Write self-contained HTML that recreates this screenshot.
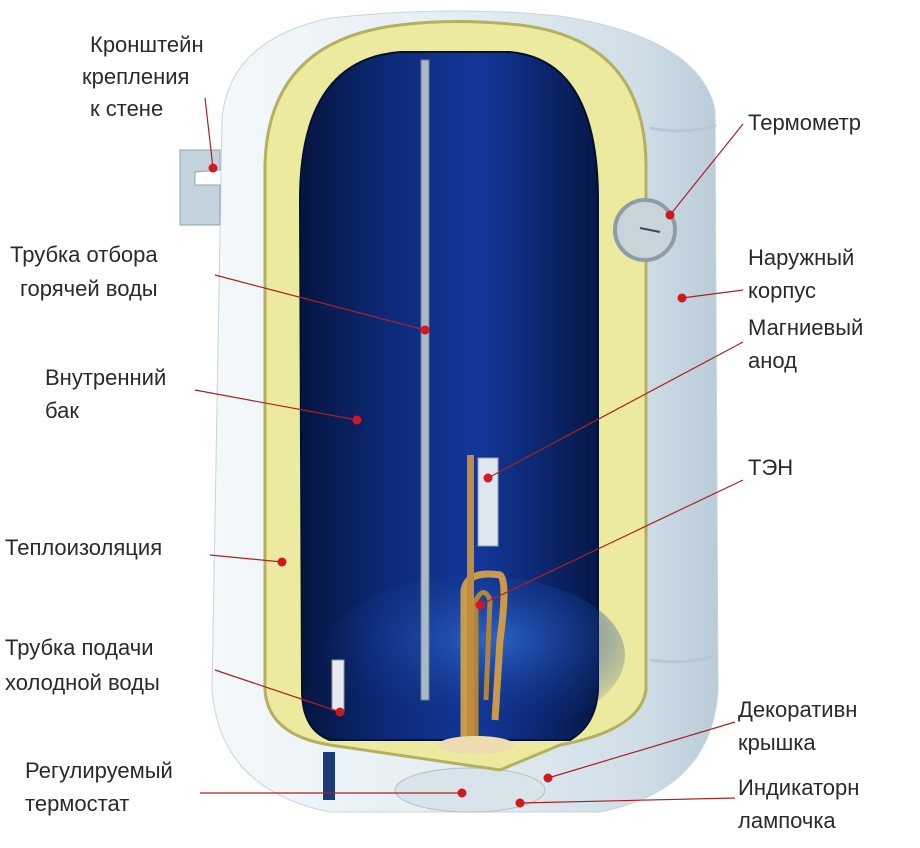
<!DOCTYPE html>
<html><head><meta charset="utf-8"><style>
body{margin:0;background:#fff;}
svg{display:block}
text{font-family:"Liberation Sans",sans-serif;font-size:22px;fill:#2a2a2a;}
</style></head><body>
<svg width="920" height="848" viewBox="0 0 920 848">
<defs>
<linearGradient id="shell" x1="0" x2="1" y1="0" y2="0">
<stop offset="0" stop-color="#f4f8fa"/><stop offset="0.5" stop-color="#e4edf2"/><stop offset="0.85" stop-color="#cfdde6"/><stop offset="1" stop-color="#b9ccd8"/>
</linearGradient>
<linearGradient id="blue" x1="0" x2="1" y1="0" y2="0">
<stop offset="0" stop-color="#061540"/><stop offset="0.3" stop-color="#0c2a78"/><stop offset="0.6" stop-color="#12379a"/><stop offset="1" stop-color="#061848"/>
</linearGradient>
<radialGradient id="bot" cx="0.55" cy="0.4" r="0.6">
<stop offset="0" stop-color="#2c63c8"/><stop offset="1" stop-color="#0b2a7c" stop-opacity="0"/>
</radialGradient>
</defs>
<path d="M222 120 Q228 40 330 18 Q450 5 560 16 Q700 38 715 110 L718 690 Q712 790 600 812 L330 812 Q220 790 212 690 Z" fill="url(#shell)" stroke="#c7d5de"/>
<path d="M650 128 Q690 135 716 125" stroke="#b8c8d3" fill="none" stroke-width="3"/>
<path d="M650 660 Q690 665 716 655" stroke="#b8c8d3" fill="none" stroke-width="3"/>
<ellipse cx="470" cy="790" rx="75" ry="22" fill="#d8e3ea" stroke="#aebfcb"/>
<rect x="323" y="752" width="12" height="48" fill="#1c3a78"/>
<path d="M180 150 L220 150 L220 170 L195 172 L195 185 L220 185 L220 225 L180 225 Z" fill="#c3d2dc" stroke="#8ea5b4"/>
<path d="M265 165 Q268 40 400 25 Q455 18 520 25 Q645 40 646 165 L646 690 Q640 730 560 745 L500 770 L330 745 Q268 735 265 690 Z" fill="#ecea9e" stroke="#b4b060" stroke-width="3"/>
<path d="M300 200 Q300 60 400 52 L510 52 Q598 60 598 200 L598 690 Q596 725 570 740 L330 740 Q302 730 302 690 Z" fill="url(#blue)" stroke="#031030" stroke-width="2"/>
<ellipse cx="475" cy="655" rx="150" ry="80" fill="url(#bot)"/>
<rect x="421" y="60" width="8" height="640" fill="#aab8c8" stroke="#6c7f95" stroke-width="1"/>
<path d="M464 745 L464 590 Q468 570 500 575 Q508 580 500 640 L495 720" stroke="#c89a4a" stroke-width="7" fill="none"/>
<path d="M476 745 L476 600 Q484 585 490 600 L486 700" stroke="#b0853a" stroke-width="5" fill="none"/>
<rect x="467" y="455" width="7" height="290" fill="#c08d40"/>
<rect x="478" y="458" width="20" height="88" fill="#dfe6ee" stroke="#8fa0b2"/>
<ellipse cx="476" cy="745" rx="38" ry="9" fill="#ecdcb0"/>
<rect x="332" y="660" width="12" height="50" fill="#e6eaee" stroke="#999"/>
<circle cx="645" cy="230" r="30" fill="#c9d3da" stroke="#8d9ca8" stroke-width="4"/>
<line x1="640" y1="228" x2="660" y2="232" stroke="#445" stroke-width="2"/>
<g stroke="#a22" stroke-width="1.2" fill="none">
<path d="M205 98 L213 168"/>
<path d="M743 124 L670 215"/>
<path d="M215 275 L425 330"/>
<path d="M743 290 L682 298"/>
<path d="M743 342 L488 478"/>
<path d="M195 390 L357 420"/>
<path d="M743 480 L480 605"/>
<path d="M210 555 L282 562"/>
<path d="M215 670 L340 712"/>
<path d="M735 722 L548 778"/>
<path d="M200 793 L462 793"/>
<path d="M735 798 L520 803"/>
</g>
<g fill="#d01820">
<circle cx="213" cy="168" r="4.5"/><circle cx="670" cy="215" r="4.5"/><circle cx="425" cy="330" r="4.5"/>
<circle cx="682" cy="298" r="4.5"/><circle cx="488" cy="478" r="4.5"/><circle cx="357" cy="420" r="4.5"/>
<circle cx="480" cy="605" r="4.5"/><circle cx="282" cy="562" r="4.5"/><circle cx="340" cy="712" r="4.5"/>
<circle cx="548" cy="778" r="4.5"/><circle cx="462" cy="793" r="4.5"/><circle cx="520" cy="803" r="4.5"/>
</g>
<text x="90" y="52">Кронштейн</text>
<text x="82" y="84">крепления</text>
<text x="90" y="116">к стене</text>
<text x="748" y="130">Термометр</text>
<text x="10" y="262">Трубка отбора</text>
<text x="20" y="296">горячей воды</text>
<text x="748" y="265">Наружный</text>
<text x="748" y="298">корпус</text>
<text x="748" y="335">Магниевый</text>
<text x="748" y="368">анод</text>
<text x="45" y="385">Внутренний</text>
<text x="45" y="418">бак</text>
<text x="748" y="475">ТЭН</text>
<text x="5" y="555">Теплоизоляция</text>
<text x="5" y="655">Трубка подачи</text>
<text x="5" y="690">холодной воды</text>
<text x="738" y="717">Декоративн</text>
<text x="738" y="750">крышка</text>
<text x="25" y="778">Регулируемый</text>
<text x="25" y="811">термостат</text>
<text x="738" y="795">Индикаторн</text>
<text x="738" y="828">лампочка</text>
</svg>
</body></html>
